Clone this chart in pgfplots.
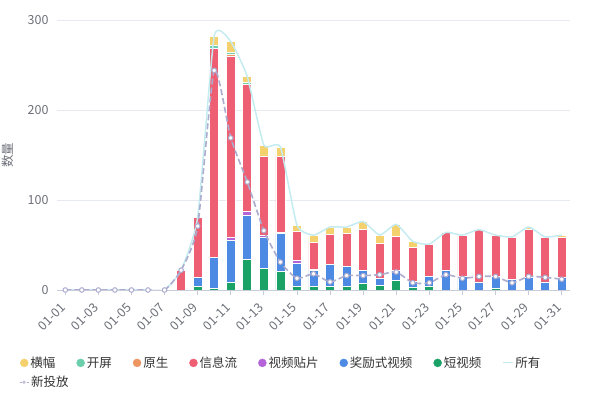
\documentclass[border=0pt]{standalone}
\usepackage{pgfplots}
\pgfplotsset{compat=1.18}
\usepackage{pgfplotstable}
\usepackage{fontspec}
\setmainfont{Noto Sans CJK SC}

\definecolor{cY}{HTML}{F5D16E}
\definecolor{cT}{HTML}{6BCFAC}
\definecolor{cO}{HTML}{EE9662}
\definecolor{cR}{HTML}{EE5F73}
\definecolor{cP}{HTML}{B464D8}
\definecolor{cB}{HTML}{4D8AE4}
\definecolor{cG}{HTML}{1BA267}
\definecolor{cAll}{HTML}{C4ECF0}
\definecolor{cNew}{HTML}{ACACCF}
\definecolor{gridc}{HTML}{E6E9F0}
\definecolor{axc}{HTML}{C8CCD8}
\definecolor{labc}{HTML}{6E7079}
\definecolor{legc}{HTML}{333333}

\pgfplotsset{dotlegend/.style={legend image code/.code={\fill[#1] (4pt,0) circle (4pt);}}}

\pgfplotstableread{
d g b p r o t y all new
0 0 0 0 0 0 0 0 0 0
1 0 0 0 0 0 0 0 0 0
2 0 0 0 0 0 0 0 0 0
3 0 0 0 0 0 0 0 0 0
4 0 0 0 0 0 0 0 0 0
5 0 0 0 0 0 0 0 0 0
6 0 0 0 0 0 0 0 0 0
7 0 0 0 22 0 0 0 22 22
8 4 10 0 67 0 0 0 81 71
9 2 34 0 232 0 4 10 282 244
10 8 47 3 202 2 2 12 276 169
11 34 49 4 141 1 2 6 237 120
12 24 34 3 87 0 0 13 161 66
13 21 42 1 84 0 0 11 159 31
14 4 26 3 32 0 0 7 72 13
15 4 18 1 30 0 0 8 61 18
16 4 24 0 34 0 0 8 70 9
17 4 22 0 37 0 0 7 70 16
18 7 15 0 45 0 0 9 76 16
19 5 8 0 39 0 0 9 61 17
20 11 11 0 38 0 0 13 73 20
21 3 7 0 37 0 0 7 54 8
22 4 11 0 36 0 0 0 51 8
23 0 22 0 42 0 0 0 64 17
24 0 15 0 46 0 0 0 61 13
25 0 9 0 58 0 0 0 67 15
26 2 13 0 46 0 0 0 61 15
27 0 12 0 47 0 0 0 59 8
28 0 14 0 53 0 0 3 70 15
29 0 9 0 50 0 0 0 59 14
30 0 14 0 44 0 0 3 61 12
}\datatable

\begin{document}
\begin{tikzpicture}[x=1pt,y=1pt]
\path[use as bounding box] (0,0) rectangle (590,394);
\begin{axis}[
  at={(57pt,104pt)}, anchor=south west,
  width=513pt, height=270pt, scale only axis,
  xmin=-0.5, xmax=30.5, ymin=0, ymax=300,
  ybar stacked, bar width=9pt,
  ytick={0,100,200,300},
  xtick={0,2,...,30},
  xtick pos=bottom, ytick pos=left,
  xticklabels={01-01,01-03,01-05,01-07,01-09,01-11,01-13,01-15,01-17,01-19,01-21,01-23,01-25,01-27,01-29,01-31},
  ymajorgrids, grid style={color=gridc, line width=0.8pt},
  axis line style={draw=none},
  tick align=outside, major tick length=5pt,
  xtick style={color=axc, line width=0.8pt},
  ytick style={draw=none},
  tick label style={font=\fontsize{12.5}{14}\selectfont, text=labc},
  xticklabel style={yshift=-8pt, rotate=45, anchor=east},
  ylabel={数量},
  ylabel style={at={([xshift=-49pt]axis description cs:0,0.5)}, anchor=center, font=\fontsize{12.5}{14}\selectfont, text=labc},
  /pgf/number format/assume math mode=true,
  every axis plot/.append style={draw=white, line width=0.7pt},
  legend style={at={(axis description cs:-0.074,-0.341)}, anchor=west, draw=none, fill=none, inner sep=0pt, outer sep=0pt,
    font=\fontsize{12.5}{14}\selectfont, text=legc, legend columns=1},
  legend cell align=left,
]
\addlegendimage{legend image code/.code={\draw[cNew, line width=1pt, dash pattern=on 2pt off 1.5pt] (0,0) -- (9pt,0); \draw[cNew, fill=white, line width=0.6pt] (4.5pt,0) circle (1.3pt);}}\addlegendentry{新投放}
\addplot[forget plot, fill=cG] table[x=d,y=g]{\datatable};
\addplot[forget plot, fill=cB] table[x=d,y=b]{\datatable};
\addplot[forget plot, fill=cP] table[x=d,y=p]{\datatable};
\addplot[forget plot, fill=cR] table[x=d,y=r]{\datatable};
\addplot[forget plot, fill=cO] table[x=d,y=o]{\datatable};
\addplot[forget plot, fill=cT] table[x=d,y=t]{\datatable};
\addplot[forget plot, fill=cY] table[x=d,y=y]{\datatable};
\end{axis}
\begin{axis}[
  at={(57pt,104pt)}, anchor=south west,
  width=513pt, height=270pt, scale only axis,
  xmin=-0.5, xmax=30.5, ymin=0, ymax=300,
  axis x line*=bottom, axis y line=none,
  x axis line style={color=axc, line width=0.8pt, -},
  xtick=\empty, ytick=\empty,
  legend style={at={(axis description cs:-0.072,-0.270)}, anchor=west, draw=none, fill=none, inner sep=0pt, outer sep=0pt,
    font=\fontsize{12.5}{14}\selectfont, text=legc, legend columns=8,
    /tikz/every even column/.append style={column sep=19pt}},
  legend cell align=left,
]
\addlegendimage{dotlegend=cY}\addlegendentry{横幅}
\addlegendimage{dotlegend=cT}\addlegendentry{开屏}
\addlegendimage{dotlegend=cO}\addlegendentry{原生}
\addlegendimage{dotlegend=cR}\addlegendentry{信息流}
\addlegendimage{dotlegend=cP}\addlegendentry{视频贴片}
\addlegendimage{dotlegend=cB}\addlegendentry{奖励式视频}
\addlegendimage{dotlegend=cG}\addlegendentry{短视频}
\addlegendimage{legend image code/.code={\draw[cAll, line width=1pt] (0,0) -- (10pt,0);}}\addlegendentry{所有}
\addplot[forget plot, color=cAll, line width=1.5pt, smooth, tension=0.3, no marks] table[x=d,y=all]{\datatable};
\addplot[forget plot, color=cNew, line width=1.6pt, dash pattern=on 6pt off 3pt, smooth, tension=0.35, mark=*, mark size=2.3pt, mark options={solid, fill=white, draw=cNew, line width=1pt}] table[x=d,y=new]{\datatable};
\end{axis}
\end{tikzpicture}
\end{document}
